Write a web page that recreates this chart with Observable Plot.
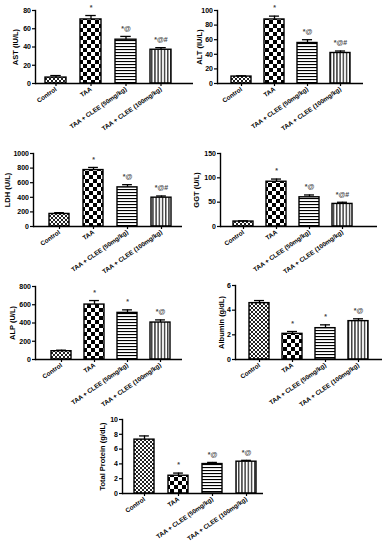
<!DOCTYPE html>
<html>
<head>
<meta charset="utf-8">
<script src="https://cdn.jsdelivr.net/npm/d3@7"></script>
<script src="https://cdn.jsdelivr.net/npm/@observablehq/plot@0.6"></script>
<style>
  html, body { margin: 0; padding: 0; background: #fff; }
  #root { position: relative; width: 388px; height: 550px; background: #fff; overflow: hidden; }
  #root svg.panel { position: absolute; font-family: "Liberation Sans", Arial, sans-serif; background: transparent; overflow: visible; }
</style>
</head>
<body>
<svg width="0" height="0" style="position:absolute">
  <defs>
    <pattern id="pat0" patternUnits="userSpaceOnUse" width="4" height="4">
      <rect width="4" height="4" fill="#fff"/>
      <rect x="0" y="0" width="2" height="2" fill="#222"/>
      <rect x="2" y="2" width="2" height="2" fill="#222"/>
    </pattern>
    <pattern id="pat1" patternUnits="userSpaceOnUse" width="8" height="8">
      <rect width="8" height="8" fill="#fff"/>
      <rect x="0" y="0" width="4" height="4" fill="#000"/>
      <rect x="4" y="4" width="4" height="4" fill="#000"/>
    </pattern>
    <pattern id="pat2" patternUnits="userSpaceOnUse" width="6" height="3">
      <rect width="6" height="3" fill="#fff"/>
      <rect x="0" y="1" width="6" height="1.1" fill="#000"/>
    </pattern>
    <pattern id="pat3" patternUnits="userSpaceOnUse" width="3.2" height="6">
      <rect width="3.2" height="6" fill="#fff"/>
      <rect x="1" y="0" width="1.1" height="6" fill="#000"/>
    </pattern>
  </defs>
</svg>
<div id="root"></div>
<script>
// ---- data ----
const groups = ["Control", "TAA", "TAA + CLEE (50mg/kg)", "TAA + CLEE (100mg/kg)"];

const astMean = [6.5, 70.2, 48, 37];
const astErr  = [2.2, 4.3, 3.6, 2.3];
const astSig  = ["", "*", "*@", "*@#"];
const astTicks = [0, 20, 40, 60, 80];

const altMean = [9.5, 87.7, 55.5, 41.8];
const altErr  = [1.0, 4.6, 4.5, 2.7];
const altSig  = ["", "*", "*@", "*@#"];
const altTicks = [0, 20, 40, 60, 80, 100];

const ldhMean = [172, 773, 536, 395];
const ldhErr  = [18, 36, 37, 23];
const ldhSig  = ["", "*", "*@", "*@#"];
const ldhTicks = [0, 200, 400, 600, 800, 1000];

const ggtMean = [10.2, 92, 60, 46.4];
const ggtErr  = [1.4, 5.5, 4.8, 3.4];
const ggtSig  = ["", "*", "*@", "*@#"];
const ggtTicks = [0, 50, 100, 150];

const alpMean = [91, 602, 511, 405];
const alpErr  = [11, 44, 33, 29];
const alpSig  = ["", "*", "*", "*@"];
const alpTicks = [0, 200, 400, 600, 800];

const albMean = [4.57, 2.08, 2.54, 3.11];
const albErr  = [0.21, 0.19, 0.27, 0.19];
const albSig  = ["", "*", "*", "*@"];
const albTicks = [0, 2, 4, 6];

const tpMean = [7.28, 2.4, 3.98, 4.3];
const tpErr  = [0.5, 0.36, 0.22, 0.18];
const tpSig  = ["", "*", "*@", "*@"];
const tpTicks = [0, 2, 4, 6, 8, 10];

const panels = [
  {label: "AST (IU/L)", mean: astMean, err: astErr, sig: astSig, ticks: astTicks},
  {label: "ALT (IU/L)", mean: altMean, err: altErr, sig: altSig, ticks: altTicks},
  {label: "LDH (U/L)", mean: ldhMean, err: ldhErr, sig: ldhSig, ticks: ldhTicks},
  {label: "GGT (U/L)", mean: ggtMean, err: ggtErr, sig: ggtSig, ticks: ggtTicks},
  {label: "ALP (U/L)", mean: alpMean, err: alpErr, sig: alpSig, ticks: alpTicks},
  {label: "Albumin (g/dL)", mean: albMean, err: albErr, sig: albSig, ticks: albTicks},
  {label: "Total Protein (g/dL)", mean: tpMean, err: tpErr, sig: tpSig, ticks: tpTicks}
];

// ---- layout (page pixels) ----
const layout = [
  {axisX: 35,  top: 10,  zero: 83,  c0: 55,  step: 35,   end: 193, labelOff: 20},
  {axisX: 217, top: 10,  zero: 83,  c0: 241, step: 33,   end: 363, labelOff: 18},
  {axisX: 33,  top: 153, zero: 226, c0: 59,  step: 34,   end: 182, labelOff: 26},
  {axisX: 220, top: 153, zero: 226, c0: 242, step: 33.3, end: 377, labelOff: 24},
  {axisX: 35,  top: 286, zero: 359, c0: 60,  step: 33.7, end: 182, labelOff: 23},
  {axisX: 235, top: 285, zero: 359, c0: 258, step: 33.3, end: 382, labelOff: 14},
  {axisX: 122, top: 419, zero: 493, c0: 144, step: 34,   end: 263, labelOff: 20}
];

const root = document.getElementById("root");
const mL = 32, mT = 10, mB = 60, mR = 4;

panels.forEach((p, k) => {
  const L = layout[k];
  const svgLeft = L.axisX - mL;
  const svgTop = L.top - mT;
  const width = mL + (L.end - L.axisX) + mR;
  const height = mT + (L.zero - L.top) + mB;
  const rows = groups.map((g, i) => ({g, v: p.mean[i], e: p.err[i], s: p.sig[i]}));
  const r0 = L.c0 - L.step / 2 - svgLeft;
  const r1 = r0 + 4 * L.step;
  const ymax = p.ticks[p.ticks.length - 1];
  const bw = 0.6 * L.step;

  const chart = Plot.plot({
    width, height,
    marginLeft: mL, marginTop: mT, marginBottom: mB, marginRight: mR,
    style: {fontFamily: "'Liberation Sans', Arial, sans-serif", background: "transparent", color: "#000", overflow: "visible"},
    x: {domain: groups, range: [r0, r1], paddingInner: 0.4, paddingOuter: 0.2, label: null},
    y: {domain: [0, ymax], label: null},
    marks: [
      ...rows.map((r, i) => Plot.barY([r], {x: "g", y: "v", fill: `url(#pat${i})`, stroke: "#000", strokeWidth: 1.4})),
      Plot.ruleX(rows, {x: "g", y1: "v", y2: d => d.v + d.e, stroke: "#000", strokeWidth: 1.3}),
      Plot.tickY(rows, {x: "g", y: d => d.v + d.e, stroke: "#000", strokeWidth: 1.3, insetLeft: bw * 0.25, insetRight: bw * 0.25}),
      Plot.text(rows, {x: "g", y: d => d.v + d.e, text: "s", dy: -8, fontSize: 7, fontWeight: "bold", fill: "#444"}),
      Plot.ruleY([0], {stroke: "#000", strokeWidth: 1.4}),
      Plot.frame({anchor: "left", stroke: "#000", strokeWidth: 1.4}),
      Plot.axisY({ticks: p.ticks, tickFormat: d3.format("d"), tickSize: 3, tickPadding: 1.5, fontSize: 7, fontWeight: "bold", label: null, strokeWidth: 1.2}),
      Plot.axisX({tickSize: 3, tickRotate: -35, tickPadding: 2, fontSize: 6.3, fontWeight: "bold", label: null, strokeWidth: 1.2}),
      Plot.text([p.label], {frameAnchor: "left", textAnchor: "middle", lineAnchor: "middle", dx: -L.labelOff, rotate: -90, fontSize: 7.5, fontWeight: "bold", fill: "#000"})
    ]
  });
  chart.classList.add("panel");
  chart.style.left = svgLeft + "px";
  chart.style.top = svgTop + "px";
  root.appendChild(chart);
});
</script>
</body>
</html>
